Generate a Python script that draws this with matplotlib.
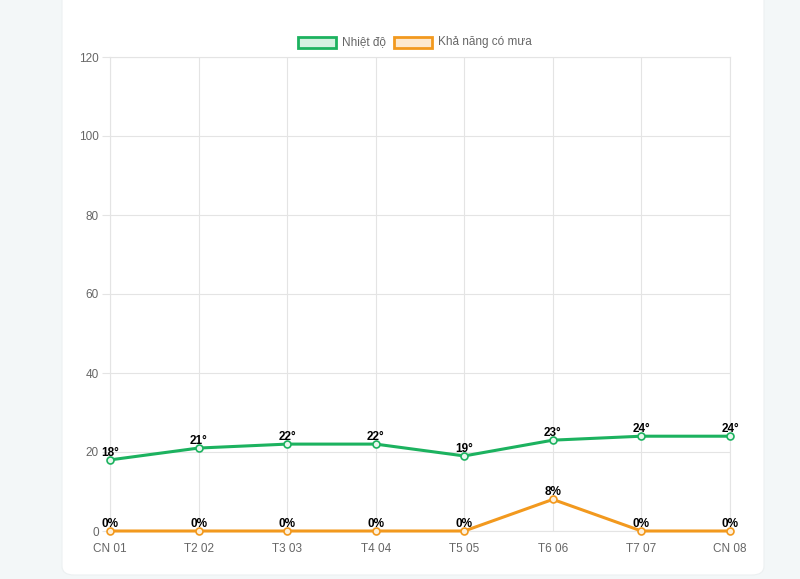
import matplotlib
matplotlib.use("Agg")
import matplotlib.pyplot as plt
from matplotlib.patches import FancyBboxPatch, Rectangle

plt.rcParams["font.family"] = ["Liberation Sans", "DejaVu Sans"]

days = ["CN 01", "T2 02", "T3 03", "T4 04", "T5 05", "T6 06", "T7 07", "CN 08"]
temps = [18, 21, 22, 22, 19, 23, 24, 24]
rain = [0, 0, 0, 0, 0, 8, 0, 0]
yticks = [0, 20, 40, 60, 80, 100, 120]

GREEN = "#1cb25f"
ORANGE = "#f2991e"
W, H = 800, 579

fig = plt.figure(figsize=(8, 5.79), dpi=100)
fig.patch.set_facecolor("#f3f7f8")
card = FancyBboxPatch((62 / W, 4 / H), 702 / W, 1.2, boxstyle="round,pad=0,rounding_size=0.015",
                      transform=fig.transFigure, facecolor="white", edgecolor="#ecf0f1", lw=0.8, zorder=0)
fig.add_artist(card)

ax = fig.add_axes([110 / W, 48 / H, 620 / W, 474 / H])
ax.set_facecolor("none")
x = list(range(len(days)))
ax.plot(x, temps, color=GREEN, lw=2.2, marker="o", ms=5, mfc="#e8f7ee", mec=GREEN, mew=1.2, clip_on=False, zorder=3)
ax.plot(x, rain, color=ORANGE, lw=2.2, marker="o", ms=5, mfc="#fdf0dc", mec=ORANGE, mew=1.2, clip_on=False, zorder=3)
for xi, t in zip(x, temps):
    ax.annotate(f"{t}°", (xi, t), xytext=(0, 1), textcoords="offset points", ha="center", va="bottom",
                fontsize=8.5, fontweight="bold", color="black", zorder=4)
for xi, r in zip(x, rain):
    ax.annotate(f"{r}%", (xi, r), xytext=(0, 1), textcoords="offset points", ha="center", va="bottom",
                fontsize=8.5, fontweight="bold", color="black", zorder=4)

ax.set_xlim(0, len(days) - 1)
ax.set_ylim(0, 120)
ax.set_yticks(yticks)
ax.set_xticks(x)
ax.set_xticklabels(days)
ax.grid(True, color="#e4e4e4", lw=0.8)
ax.set_axisbelow(True)
for s in ax.spines.values():
    s.set_color("#e4e4e4")
    s.set_linewidth(0.8)
ax.tick_params(axis="both", colors="#e4e4e4", labelcolor="#666666", labelsize=8.5, width=0.8)
ax.tick_params(axis="y", length=6, pad=2)
ax.tick_params(axis="x", length=0, pad=9)

# legend
def leg(x0, color, fill, label):
    fig.add_artist(Rectangle((x0 / W, (H - 48) / H), 38 / W, 11 / H, transform=fig.transFigure,
                             facecolor=fill, edgecolor=color, lw=2))
    fig.text((x0 + 44) / W, (H - 42) / H, label, fontsize=8.5, color="#666666", va="center", ha="left")

leg(298, GREEN, "#d4f1e1", "Nhiệt độ")
leg(394, ORANGE, "#fde9cf", "Khả năng có mưa")

fig.savefig("out.png", dpi=100, facecolor=fig.get_facecolor())
